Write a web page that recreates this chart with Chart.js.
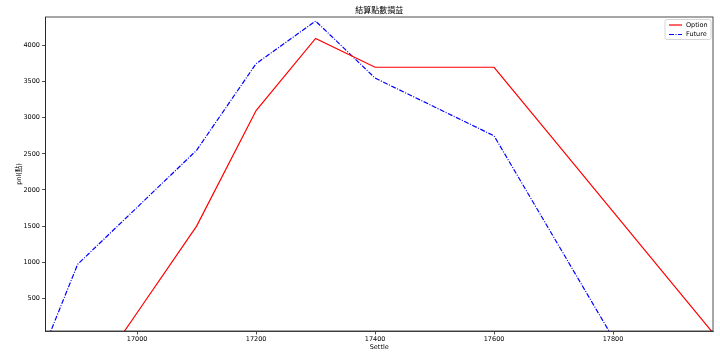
<!DOCTYPE html>
<html>
<head>
<meta charset="utf-8">
<script src="https://cdn.jsdelivr.net/npm/chart.js@4/dist/chart.umd.min.js"></script>
<style>
html,body{margin:0;padding:0;background:#fff;}
canvas{display:block;}
</style>
</head>
<body>
<canvas id="c" width="720" height="358"></canvas>
<script>
// ---- data ----
const settle = [16800, 16900, 17000, 17100, 17200, 17300, 17400, 17500, 17600, 17700, 17800, 17900, 18000];
const optionPnl = [null, -900, 300, 1500, 3100, 4100, 3700, 3700, 3700, 2700, 1700, 700, -300];
const futurePnl = [-1080, 970, 1760, 2550, 3750, 4340, 3550, 3150, 2750, 1350, -50, null, null];
const xTicks = [17000, 17200, 17400, 17600, 17800];
const yTicks = [500, 1000, 1500, 2000, 2500, 3000, 3500, 4000];
const titleText = '結算點數損益';
const xLabel = 'Settle';
const yLabel = 'pnl(點)';
const seriesNames = ['Option', 'Future'];

const FONT = "'DejaVu Sans', 'Noto Sans CJK TC', sans-serif";
const toPts = arr => settle.map((x, i) => ({x: x, y: arr[i]}));

const framePlugin = {
  id: 'frame',
  afterDraw(chart) {
    const ctx = chart.ctx, a = chart.chartArea;
    ctx.save();
    // frame
    ctx.strokeStyle = '#222';
    ctx.lineWidth = 0.8;
    ctx.strokeRect(a.left, a.top, a.right - a.left, a.bottom - a.top);
    // title
    ctx.fillStyle = '#000';
    ctx.font = "8px 'Noto Sans CJK TC', 'DejaVu Sans', sans-serif";
    ctx.textAlign = 'center';
    ctx.textBaseline = 'middle';
    ctx.fillText(titleText, (a.left + a.right) / 2, 9.5);
    // legend
    const bx = 665, by = 19.5, bw = 46, bh = 20;
    ctx.fillStyle = 'rgba(255,255,255,0.85)';
    ctx.strokeStyle = '#cccccc';
    ctx.lineWidth = 0.8;
    ctx.beginPath();
    ctx.roundRect(bx, by, bw, bh, 2);
    ctx.fill();
    ctx.stroke();
    chart.data.datasets.forEach((ds, i) => {
      const y = 25 + i * 9.5;
      ctx.strokeStyle = ds.borderColor;
      ctx.lineWidth = ds.borderWidth;
      ctx.setLineDash(ds.borderDash || []);
      ctx.beginPath();
      ctx.moveTo(669, y);
      ctx.lineTo(682, y);
      ctx.stroke();
      ctx.setLineDash([]);
      ctx.fillStyle = '#000';
      ctx.font = '6.5px ' + FONT;
      ctx.textAlign = 'left';
      ctx.textBaseline = 'middle';
      ctx.fillText(ds.label, 686, y);
    });
    ctx.restore();
  }
};

new Chart(document.getElementById('c'), {
  type: 'line',
  data: {
    datasets: [
      {label: seriesNames[0], data: toPts(optionPnl), borderColor: '#ff0000', borderWidth: 1.2, pointRadius: 0, fill: false, tension: 0, spanGaps: false},
      {label: seriesNames[1], data: toPts(futurePnl), borderColor: '#0000ff', borderWidth: 1.2, borderDash: [5, 1.5, 1, 1.5], pointRadius: 0, fill: false, tension: 0, spanGaps: false}
    ]
  },
  options: {
    responsive: false,
    animation: false,
    devicePixelRatio: 1,
    layout: {padding: {left: 0, right: 7, top: 17, bottom: 0}},
    plugins: {legend: {display: false}, title: {display: false}, tooltip: {enabled: false}},
    scales: {
      x: {
        type: 'linear',
        min: 16846, max: 17968,
        afterBuildTicks(s) { s.ticks = xTicks.map(v => ({value: v})); },
        afterFit(s) { s.height = 27; },
        grid: {drawOnChartArea: false, drawTicks: true, tickLength: 3.5, color: '#222', lineWidth: 0.8},
        border: {display: true, color: '#222', width: 0.8},
        ticks: {color: '#000', font: {family: FONT, size: 6.5}, padding: 1, maxRotation: 0, autoSkip: false, callback: v => String(v)},
        title: {display: true, text: xLabel, color: '#000', font: {family: FONT, size: 6.5}, padding: {top: 0, bottom: 7}}
      },
      y: {
        type: 'linear',
        min: 47, max: 4396,
        afterBuildTicks(s) { s.ticks = yTicks.map(v => ({value: v})); },
        afterFit(s) { s.width = 45.5; },
        grid: {drawOnChartArea: false, drawTicks: true, tickLength: 3.5, color: '#222', lineWidth: 0.8},
        border: {display: true, color: '#222', width: 0.8},
        ticks: {color: '#000', font: {family: FONT, size: 6.5}, padding: 2, autoSkip: false, callback: v => String(v)},
        title: {display: true, text: yLabel, color: '#000', font: {family: FONT, size: 6.5}, padding: {top: 15, bottom: 0}}
      }
    }
  },
  plugins: [framePlugin]
});
</script>
</body>
</html>
